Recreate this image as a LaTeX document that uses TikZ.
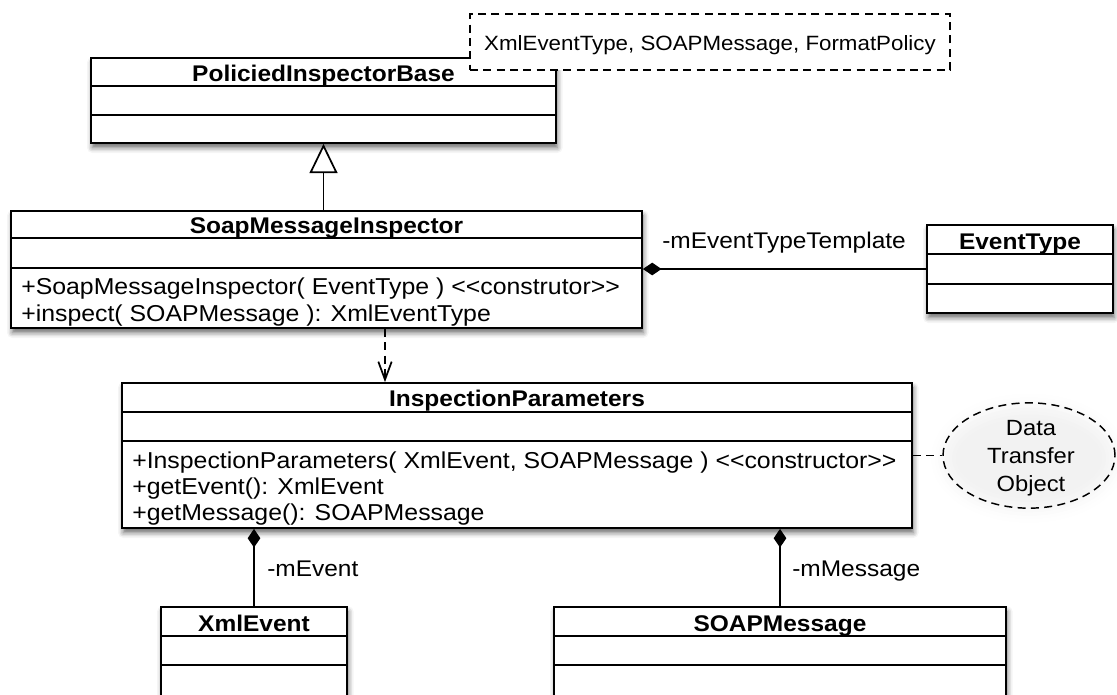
\documentclass[tikz,border=0pt]{standalone}
\usepackage{fontspec}
% Arial-metric sans, slightly widened; no TeX ligatures so that << stays as typed
\newfontfamily\umlfont{Liberation Sans}[FakeStretch=1.08]
\usetikzlibrary{arrows.meta,shapes.geometric,fit,shadows.blur}

\begin{document}
\begin{tikzpicture}[x=0.75pt, y=-0.75pt,
  classbox/.style={draw, rectangle, line width=1.3pt, fill=white, inner sep=0pt,
    blur shadow={shadow xshift=1pt, shadow yshift=-3.5pt,
                 shadow blur radius=4pt, shadow opacity=60}},
  sepline/.style={line width=1.3pt},
  classname/.style={font=\umlfont\bfseries\fontsize{17}{20}\selectfont, inner sep=0pt, anchor=base},
  member/.style={font=\umlfont\fontsize{17.25}{20}\selectfont, inner sep=0pt, anchor=base west},
  rolelabel/.style={font=\umlfont\fontsize{17}{20}\selectfont, inner sep=0pt, anchor=base west},
  notetext/.style={font=\umlfont\fontsize{15.5}{19}\selectfont, inner sep=0pt, anchor=base},
  dtotext/.style={font=\umlfont\fontsize{16.5}{20}\selectfont, inner sep=0pt, anchor=base},
  wire/.style={line width=1.3pt},
  inherits/.style={wire, -{Triangle[length=22pt, width=21pt, fill=white, line join=miter]}},
  composed/.style={wire, -{Diamond[length=14pt, width=9.5pt, fill=black]}},
  uses/.style={wire, dash pattern=on 6pt off 4pt, -{Straight Barb[length=13.5pt, width=10pt]}},
  notelink/.style={wire, dash pattern=on 6pt off 4pt},
  noteframe/.style={draw, line width=1.1pt, dash pattern=on 6pt off 4pt, inner sep=0pt},
]
\useasboundingbox (0,0) rectangle (1117,694);
\clip (0,0) rectangle (1117,694);

% ---- PoliciedInspectorBase (template class) ----
\node[classbox, fit={(91,58) (556,143)}] (pib) {};
\draw[sepline] (pib.west |- 0,86) -- (pib.east |- 0,86);
\draw[sepline] (pib.west |- 0,115) -- (pib.east |- 0,115);
\node[classname] (pibname) at (323.5,81) {PoliciedInspectorBase};

% template parameters
\node[noteframe, fill=white, fit={(470,14) (950,70)}] (tpl) {};
\node[notetext] (tpltext) at (710,50) {XmlEventType, SOAPMessage, FormatPolicy};

% ---- SoapMessageInspector ----
\node[classbox, fit={(11,211) (642,328)}] (smi) {};
\draw[sepline] (smi.west |- 0,238) -- (smi.east |- 0,238);
\draw[sepline] (smi.west |- 0,268) -- (smi.east |- 0,268);
\node[classname] (sminame) at (326.5,233) {SoapMessageInspector};
\node[member] (smiop1) at (21,294) {+SoapMessageInspector( EventType ) <<construtor>>};
\node[member] (smiop2) at (21,321) {+inspect( SOAPMessage ): XmlEventType};

% ---- EventType ----
\node[classbox, fit={(927,225) (1113,313)}] (et) {};
\draw[sepline] (et.west |- 0,254) -- (et.east |- 0,254);
\draw[sepline] (et.west |- 0,284) -- (et.east |- 0,284);
\node[classname] (etname) at (1020,249) {EventType};

% ---- InspectionParameters ----
\node[classbox, fit={(122,383) (912,528)}] (ip) {};
\draw[sepline] (ip.west |- 0,412) -- (ip.east |- 0,412);
\draw[sepline] (ip.west |- 0,441) -- (ip.east |- 0,441);
\node[classname] (ipname) at (517,406) {InspectionParameters};
\node[member] (ipop1) at (132,468) {+InspectionParameters( XmlEvent, SOAPMessage ) <<constructor>>};
\node[member] (ipop2) at (132,494) {+getEvent(): XmlEvent};
\node[member] (ipop3) at (132,520) {+getMessage(): SOAPMessage};

% ---- Data Transfer Object note ----
\node[ellipse, draw, line width=1.1pt, dash pattern=on 6pt off 4pt,
      minimum width=129pt, minimum height=79pt, inner sep=0pt,
      blur shadow={shadow xshift=0pt, shadow yshift=-2pt, shadow blur radius=9pt, shadow opacity=5}]
      (dto) at (1029,455.5) {};
\node[dtotext] (dto1) at (1031,435) {Data};
\node[dtotext] (dto2) at (1031,463) {Transfer};
\node[dtotext] (dto3) at (1031,491) {Object};

% ---- XmlEvent and SOAPMessage ----
\node[classbox, fit={(161,607) (347,720)}] (xe) {};
\draw[sepline] (xe.west |- 0,636) -- (xe.east |- 0,636);
\draw[sepline] (xe.west |- 0,665) -- (xe.east |- 0,665);
\node[classname] (xename) at (254,631) {XmlEvent};

\node[classbox, fit={(554,607) (1006,720)}] (sm) {};
\draw[sepline] (sm.west |- 0,636) -- (sm.east |- 0,636);
\draw[sepline] (sm.west |- 0,665) -- (sm.east |- 0,665);
\node[classname] (smname) at (780,631) {SOAPMessage};

% ---- relations ----
\draw[inherits] (smi.north -| pib.south) -- (pib.south);
\coordinate (depx) at (385,0);
\draw[uses] (smi.south -| depx) -- (ip.north -| depx);
\draw[composed] (et.west) -- (et.west -| smi.east);
\node[rolelabel] (etrole) at (662,248) {-mEventTypeTemplate};
\draw[composed] (xe.north) -- (xe.north |- ip.south);
\node[rolelabel] (xerole) at (267,576) {-mEvent};
\draw[composed] (sm.north) -- (sm.north |- ip.south);
\node[rolelabel] (smrole) at (792,576) {-mMessage};
\draw[notelink] (ip.east |- dto.west) -- (dto.west);
\end{tikzpicture}
\end{document}
